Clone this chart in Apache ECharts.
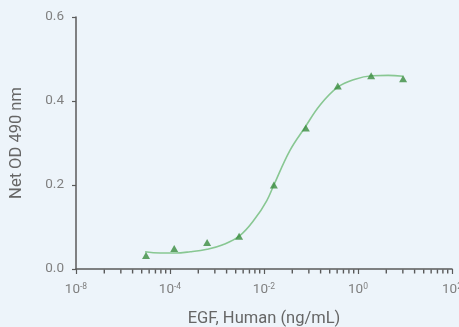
<!DOCTYPE html>
<html>
<head>
<meta charset="utf-8">
<script src="https://cdn.jsdelivr.net/npm/echarts@6/dist/echarts.min.js"></script>
<style>
  html, body { margin: 0; padding: 0; background: #edf4fa; }
  #chart { width: 459px; height: 327px; }
</style>
</head>
<body>
<div id="chart"></div>
<script>
// x positions are log10 of the axis scale (ng/mL)
const pointLogX = [-4.51, -3.91, -3.21, -2.53, -1.79, -1.11, -0.43, 0.28, 0.96];
const pointY = [0.032, 0.049, 0.063, 0.078, 0.2, 0.336, 0.436, 0.46, 0.453];

// fitted curve
const curveLogX = [-4.53, -4.21, -3.89, -3.57, -3.21, -2.89, -2.53, -2.19, -1.94, -1.79, -1.45, -1.13, -0.81, -0.43, -0.06, 0.30, 0.64, 0.96];
const curveY = [0.041, 0.038, 0.038, 0.041, 0.047, 0.057, 0.078, 0.12, 0.163, 0.2, 0.282, 0.337, 0.39, 0.433, 0.452, 0.46, 0.461, 0.459];

// tick labels as printed on the original axis
const xTickValues = [-6, -4, -2, 0, 2];
const xTickBase = ['10', '10', '10', '10', '10'];
const xTickExp = ['-8', '-4', '-2', '0', '2'];
const yTicks = [0, 0.2, 0.4, 0.6];

// minor ticks: log pattern repeated inside each labelled interval
const minorTicks = [];
for (let i = 0; i < xTickValues.length - 1; i++) {
  for (let k = 2; k <= 9; k++) {
    minorTicks.push(xTickValues[i] + 2 * Math.log10(k));
  }
}

const chart = echarts.init(document.getElementById('chart'));

const axisColor = '#5a5a5a';
const labelColor = '#808080';

const option = {
  backgroundColor: '#edf4fa',
  animation: false,
  textStyle: { fontFamily: 'Roboto' },
  grid: { left: 76, right: 7, top: 17, bottom: 58, containLabel: false, outerBoundsMode: 'none' },
  xAxis: {
    type: 'value',
    min: -6,
    max: 2,
    interval: 2,
    name: 'EGF, Human (ng/mL)',
    nameLocation: 'middle',
    nameGap: 41,
    nameTextStyle: { fontSize: 16.5, color: '#666', fontFamily: 'Roboto' },
    axisLine: { onZero: false, lineStyle: { color: axisColor, width: 1.5 } },
    axisTick: { length: 5, lineStyle: { color: axisColor, width: 1.2 } },
    splitLine: { show: false },
    axisLabel: {
      margin: 13,
      formatter: function (v) {
        const i = xTickValues.indexOf(v);
        if (i < 0) return '';
        return '{b|' + xTickBase[i] + '}{e|' + xTickExp[i] + '}';
      },
      rich: {
        b: { fontSize: 13.5, color: labelColor, lineHeight: 16, fontFamily: 'Roboto' },
        e: { fontSize: 8.5, color: labelColor, lineHeight: 16, verticalAlign: 'top', fontFamily: 'Roboto' }
      }
    }
  },
  yAxis: {
    type: 'value',
    min: 0,
    max: 0.6,
    interval: 0.2,
    name: 'Net OD 490 nm',
    nameLocation: 'middle',
    nameGap: 51,
    nameTextStyle: { fontSize: 16.5, color: '#666', fontFamily: 'Roboto' },
    axisLine: { show: true, onZero: false, lineStyle: { color: axisColor, width: 1.5 } },
    axisTick: { show: true, length: 4, lineStyle: { color: axisColor, width: 1.2 } },
    splitLine: { show: false },
    axisLabel: {
      margin: 12,
      fontSize: 13.5,
      color: labelColor,
      formatter: function (v) {
        return yTicks.indexOf(v) >= 0 ? v.toFixed(1) : '';
      }
    }
  },
  series: [
    {
      // minor ticks under the x axis line
      type: 'scatter',
      data: minorTicks.map(x => [x, 0]),
      symbol: 'rect',
      symbolSize: [1.4, 4],
      symbolOffset: [0, 2.5],
      itemStyle: { color: '#5a5a5a', opacity: 1 },
      clip: false,
      silent: true,
      z: 5
    },
    {
      type: 'line',
      data: curveLogX.map((x, i) => [x, curveY[i]]),
      smooth: 0.4,
      showSymbol: false,
      lineStyle: { color: '#88c792', width: 1.6 },
      z: 2
    },
    {
      type: 'scatter',
      data: pointLogX.map((x, i) => [x, pointY[i]]),
      symbol: 'triangle',
      symbolSize: [8, 7],
      itemStyle: { color: '#3a8c3f' },
      z: 3
    }
  ]
};

chart.setOption(option);
</script>
</body>
</html>
